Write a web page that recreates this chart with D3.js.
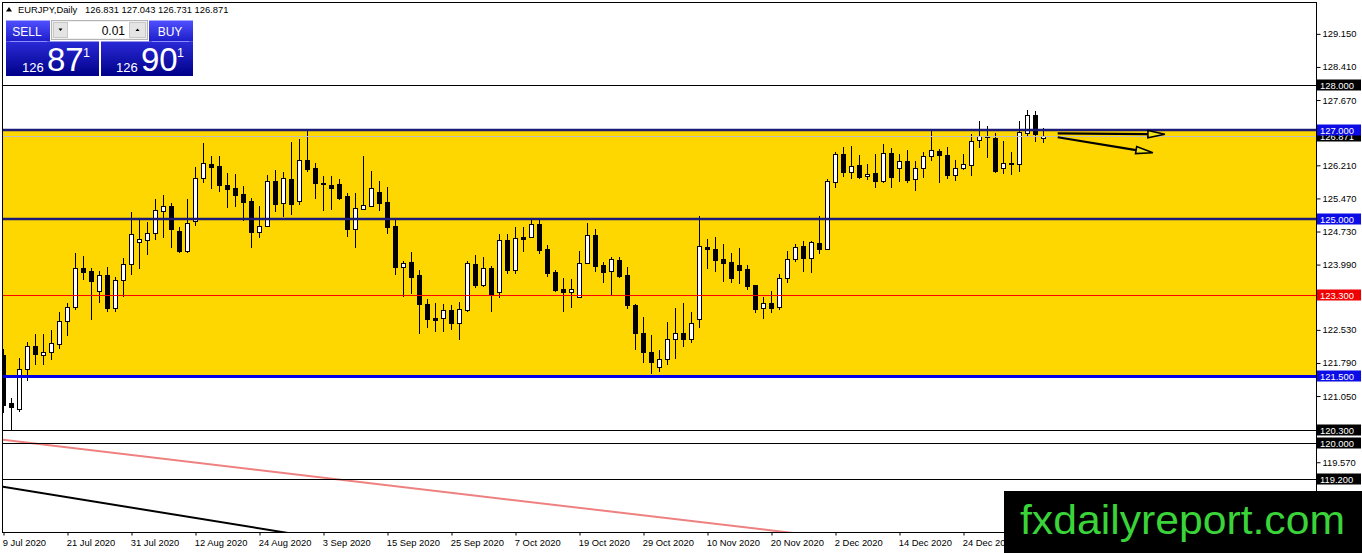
<!DOCTYPE html>
<html><head><meta charset="utf-8">
<script src="https://cdn.jsdelivr.net/npm/d3@7"></script>
<style>
html,body{margin:0;padding:0;background:#fff;}
svg{display:block;font-family:"Liberation Sans",Arial,sans-serif;}
</style></head>
<body>
<svg id="c" width="1362" height="553"></svg>
<script>
// ---------------- DATA ----------------
const symbolTitle = "EURJPY,Daily";
const headerOHLC = "126.831 127.043 126.731 126.871";

const opens = [121.97,120.90,120.75,121.65,122.18,121.96,122.03,122.21,122.72,123.05,
123.91,123.85,123.40,123.76,123.03,123.64,124.00,124.49,124.55,124.69,
125.19,125.30,124.74,124.30,124.97,125.92,126.24,126.19,125.77,125.70,
125.57,125.41,124.73,124.86,125.86,125.36,125.90,125.42,126.34,126.14,
125.82,125.77,125.79,125.52,124.78,125.24,125.31,125.62,125.39,124.85,
123.93,124.05,123.76,123.11,122.79,122.79,122.97,122.69,122.97,124.00,
123.53,123.91,123.37,124.54,123.87,124.60,124.60,124.90,124.34,123.83,
123.44,123.37,123.26,124.02,124.65,123.98,123.85,124.09,123.76,123.09,
122.45,122.03,121.69,121.87,122.32,122.47,122.32,122.77,124.39,124.34,
124.12,124.05,123.97,123.89,123.53,123.01,123.12,123.05,123.68,124.11,
124.40,124.13,124.47,124.33,125.84,126.46,126.06,126.22,125.97,126.03,
125.87,126.48,126.14,126.30,125.90,126.14,126.42,126.53,126.43,125.99,
126.16,126.21,126.78,126.87,126.82,126.16,126.27,126.23,126.94,127.34,
126.831];
const highs = [122.10,121.00,121.89,122.26,122.43,122.43,122.53,122.92,123.13,124.24,
124.18,123.91,123.85,123.94,123.72,124.14,125.17,125.00,124.95,125.46,
125.54,125.36,124.82,125.46,126.18,126.72,126.42,126.42,126.03,126.02,
125.75,125.49,125.30,125.99,126.11,126.05,126.73,126.80,127.02,126.27,
125.97,125.97,125.90,125.60,125.58,126.42,126.08,125.86,125.73,124.99,
124.08,124.27,123.88,123.21,123.12,123.11,123.09,123.15,124.07,124.20,
124.15,123.96,124.67,124.67,124.82,124.82,125.02,125.00,124.43,123.88,
123.70,123.67,124.29,124.93,124.79,124.04,124.17,124.17,123.94,123.11,
122.81,122.41,122.09,122.70,123.03,123.12,122.92,125.08,124.57,124.60,
124.45,124.24,124.37,123.98,123.54,123.27,123.40,123.78,124.29,124.45,
124.52,124.52,125.08,125.90,126.51,126.63,126.64,126.44,126.24,126.46,
126.69,126.59,126.46,126.55,126.31,126.51,127.00,126.58,126.63,126.33,
126.46,126.91,127.20,127.09,126.93,126.76,126.51,127.20,127.45,127.43,
127.043];
const lows = [120.70,120.30,120.72,121.41,121.76,121.76,121.87,122.13,122.41,123.00,
123.66,122.78,123.16,122.96,122.96,123.29,123.77,123.92,124.22,124.56,
124.61,124.39,124.28,124.28,124.87,125.84,125.70,125.64,125.28,125.31,
124.99,124.39,124.61,124.85,125.19,125.08,125.12,125.34,126.09,125.49,
125.21,125.24,125.46,124.63,124.38,125.24,125.29,125.21,124.70,123.77,
123.29,123.36,122.45,122.59,122.51,122.51,122.54,122.32,122.96,123.48,
123.51,122.96,123.26,123.81,123.81,124.30,124.60,124.24,123.73,123.40,
122.96,123.05,123.26,124.02,123.85,123.59,123.33,123.72,123.01,122.10,
121.82,121.56,121.62,121.76,121.91,122.17,122.27,122.60,123.92,123.85,
123.63,123.59,123.57,123.44,122.94,122.79,122.92,122.99,123.59,124.08,
123.85,123.83,124.24,124.33,125.72,125.98,125.92,125.92,125.90,125.73,
125.84,125.73,125.87,125.84,125.66,125.96,126.34,125.84,125.93,125.88,
126.12,125.99,126.63,126.40,126.07,126.03,126.02,126.08,126.87,126.76,
126.731];
const closes = [120.85,120.80,121.65,122.18,121.98,122.03,122.23,122.72,123.05,123.91,
123.83,123.63,123.76,123.01,123.64,124.00,124.67,124.56,124.70,125.21,
125.30,124.78,124.30,124.93,125.92,126.26,126.17,125.76,125.69,125.55,
125.40,124.72,124.86,125.85,125.34,125.92,125.34,126.34,126.13,125.81,
125.79,125.70,125.49,124.78,125.25,125.32,125.70,125.37,124.84,123.93,
124.02,123.72,123.10,122.77,122.75,122.97,122.69,123.00,124.02,123.53,
123.91,123.33,124.54,123.87,124.58,124.56,124.90,124.32,123.81,123.42,
123.37,123.44,124.02,124.65,123.96,123.83,124.11,123.74,123.08,122.45,
122.03,121.82,121.87,122.32,122.47,122.32,122.68,124.40,124.33,124.09,
124.03,123.70,123.88,123.52,123.00,123.12,123.02,123.68,124.11,124.39,
124.13,124.49,124.33,125.86,126.46,126.05,126.19,125.96,126.02,125.87,
126.48,125.96,126.30,125.88,126.14,126.42,126.55,126.43,125.99,126.14,
126.24,126.76,126.87,126.84,126.09,126.26,126.23,126.95,127.34,126.90,
126.871];

const xTickIndex  = [0,8,16,24,32,40,48,56,64,72,80,88,96,104,112,120];
const xTickLabels = ["9 Jul 2020","21 Jul 2020","31 Jul 2020","12 Aug 2020","24 Aug 2020","3 Sep 2020",
  "15 Sep 2020","25 Sep 2020","7 Oct 2020","19 Oct 2020","29 Oct 2020","10 Nov 2020","20 Nov 2020",
  "2 Dec 2020","14 Dec 2020","24 Dec 2020"];
const priceTicks = [129.150,128.410,127.670,126.210,125.470,124.730,123.990,122.530,121.790,121.050,119.570];

const zoneTop = 127.0, zoneBottom = 121.5;
const levelValues = [128.0,127.0,125.0,123.3,121.5,120.3,120.0,119.2];
const levelKinds  = ["black","navy","navy","red","blue","black","black","black"];
const bidPrice = 126.871;

// trendlines: [startIndex, startPrice, endIndex, endPrice]
const trendPink  = [0,120.07,100,117.96];
const trendBlack = [0,119.02,40,117.86];
// arrows: [startIndex, startPrice, tipIndex, tipPrice]
const arrowList = [[131.8,126.926,145.2,126.904],[131.8,126.837,143.7,126.49]];

const sellPrice = ["126","87","1"];
const buyPrice  = ["126","90","1"];
const lotValue = "0.01";
const watermark = "fxdailyreport.com";

// ---------------- DRAW ----------------
const svg = d3.select("#c");
const L = 3, R = 1316, T = 3, B = 532;
const x = d3.scaleLinear().domain([0,130]).range([3.3,1043.3]);
const y = d3.scaleLinear().domain([118.01,129.84]).range([B,T]);
const F = "'Liberation Sans',Arial,sans-serif";

svg.append("rect").attr("width",1362).attr("height",553).attr("fill","#fff");
const defs = svg.append("defs");
defs.append("clipPath").attr("id","plot").append("rect").attr("x",L).attr("y",T).attr("width",R-L).attr("height",B-T);
function grad(id, c1, c2){
  const g = defs.append("linearGradient").attr("id",id).attr("x1",0).attr("y1",0).attr("x2",0).attr("y2",1);
  g.append("stop").attr("offset","0%").attr("stop-color",c1);
  g.append("stop").attr("offset","100%").attr("stop-color",c2);
}
grad("gBtn","#5050ff","#1c1cc8");
grad("gBox","#2a2ad8","#000088");

const plot = svg.append("g").attr("clip-path","url(#plot)");

// yellow zone
plot.append("rect").attr("x",L).attr("width",R-L)
  .attr("y",y(zoneTop)).attr("height",y(zoneBottom)-y(zoneTop)).attr("fill","#FFD700");

// trendlines
function trend(t,color){
  const slope = (t[3]-t[1])/(t[2]-t[0]);
  const i0 = -1, i1 = 200;
  plot.append("line").attr("x1",x(i0)).attr("y1",y(t[1]+slope*(i0-t[0])))
    .attr("x2",x(i1)).attr("y2",y(t[1]+slope*(i1-t[0])))
    .attr("stroke",color).attr("stroke-width",2);
}
trend(trendPink,"#ee8080");
trend(trendBlack,"#000");

// candles
const idx = d3.range(opens.length);
const cg = plot.append("g");
idx.forEach(i=>{
  const cx = Math.round(x(i));
  const o=opens[i], c=closes[i], h=highs[i], l=lows[i];
  const bull = c>=o;
  cg.append("line").attr("x1",cx+0.5).attr("x2",cx+0.5)
    .attr("y1",Math.round(y(h))).attr("y2",Math.round(y(l))+1)
    .attr("stroke","#000").attr("stroke-width",1).attr("shape-rendering","crispEdges");
  const top = Math.round(y(Math.max(o,c))), bot = Math.round(y(Math.min(o,c)));
  cg.append("rect").attr("x",cx-1.5).attr("y",top+0.5)
    .attr("width",4).attr("height",Math.max(bot-top,1))
    .attr("fill",bull?"#fff":"#000").attr("stroke","#000").attr("stroke-width",1)
    .attr("shape-rendering","crispEdges");
});

// level lines
const kindStyle = {
  black:{stroke:"#000",w:1,label:"#000"},
  navy:{stroke:"#1c1c78",w:2.5,label:"#0c0ce6"},
  red:{stroke:"#ff0000",w:1,label:"#f00000"},
  blue:{stroke:"#0000e6",w:3,label:"#0c0ce6"}
};
// bid line
plot.append("line").attr("x1",L).attr("x2",R).attr("y1",Math.round(y(bidPrice))+0.5).attr("y2",Math.round(y(bidPrice))+0.5)
  .attr("stroke","#c0c0c0").attr("stroke-width",1);
levelValues.forEach((v,k)=>{
  const s = kindStyle[levelKinds[k]];
  const yy = Math.round(y(v)) + (s.w%2===1?0.5:0);
  plot.append("line").attr("x1",L).attr("x2",R).attr("y1",yy).attr("y2",yy)
    .attr("stroke",s.stroke).attr("stroke-width",s.w).attr("shape-rendering",s.w===1?"crispEdges":"auto");
});

// arrows
arrowList.forEach(a=>{
  const x0=x(a[0]), y0=y(a[1]), x1=x(a[2]), y1=y(a[3]);
  const dx=x1-x0, dy=y1-y0, len=Math.hypot(dx,dy), ux=dx/len, uy=dy/len;
  const hl=17, hw=3.6;
  const bx=x1-ux*hl, by=y1-uy*hl;
  plot.append("line").attr("x1",x0).attr("y1",y0).attr("x2",bx).attr("y2",by)
    .attr("stroke","#000").attr("stroke-width",2.2);
  plot.append("path").attr("d",`M${x1},${y1}L${bx-uy*hw},${by+ux*hw}L${bx+uy*hw},${by-ux*hw}Z`)
    .attr("fill","#f2e41c").attr("stroke","#000").attr("stroke-width",1.6);
});

// frame
svg.append("rect").attr("x",2.5).attr("y",2.5).attr("width",R-2).attr("height",B-2)
  .attr("fill","none").attr("stroke","#000").attr("stroke-width",1);

// right price axis
const yAxis = d3.axisRight(y).tickValues(priceTicks).tickFormat(d3.format(".3f")).tickSize(4).tickSizeOuter(0);
const ya = svg.append("g").attr("transform",`translate(${R+0.5},0)`).call(yAxis);
ya.select(".domain").remove();
ya.selectAll("line").attr("stroke","#000");
ya.selectAll("text").attr("x",6).attr("font-family",F).attr("font-size","9.4px").attr("fill","#000");

// bottom time axis
const xAxis = d3.axisBottom(x).tickValues(xTickIndex).tickFormat((d,i)=>xTickLabels[i]).tickSize(3).tickSizeOuter(0);
const xa = svg.append("g").attr("transform",`translate(0,${B+0.5})`).call(xAxis);
xa.select(".domain").remove();
xa.selectAll("line").attr("stroke","#000").attr("transform","translate(0.2,0)");
xa.selectAll("text").attr("text-anchor","start").attr("x",-1).attr("y",7)
  .attr("font-family",F).attr("font-size","9.4px").attr("fill","#000");

// level labels on price axis
function priceLabel(v,bg){
  const cy = Math.round(y(v));
  svg.append("rect").attr("x",R+1).attr("y",cy-5.5).attr("width",44).attr("height",11).attr("fill",bg);
  svg.append("text").attr("x",R+4).attr("y",cy+3.6).attr("font-family",F).attr("font-size","9.4px")
    .attr("fill","#fff").text(v.toFixed(3));
}
priceLabel(bidPrice,"#000");
levelValues.forEach((v,k)=>priceLabel(v,kindStyle[levelKinds[k]].label));

// header
svg.append("path").attr("d","M6,11.5L9,7L12,11.5Z").attr("fill","#000");
svg.append("text").attr("x",18).attr("y",13).attr("font-family",F).attr("font-size","9.4px").attr("fill","#000").text(symbolTitle);
svg.append("text").attr("x",85).attr("y",13).attr("font-family",F).attr("font-size","9.4px").attr("fill","#000").text(headerOHLC);

// trade panel
const p = svg.append("g");
p.append("rect").attr("x",6).attr("y",20.5).attr("width",44).attr("height",21).attr("fill","url(#gBtn)");
p.append("rect").attr("x",149).attr("y",20.5).attr("width",44).attr("height",21).attr("fill","url(#gBtn)");
p.append("rect").attr("x",6).attr("y",41.5).attr("width",93).attr("height",34.5).attr("fill","url(#gBox)");
p.append("rect").attr("x",101).attr("y",41.5).attr("width",92).attr("height",34.5).attr("fill","url(#gBox)");
p.append("line").attr("x1",10).attr("x2",47).attr("y1",41.5).attr("y2",41.5).attr("stroke","#8c8cff");
p.append("line").attr("x1",152).attr("x2",189).attr("y1",41.5).attr("y2",41.5).attr("stroke","#8c8cff");
p.append("rect").attr("x",51.5).attr("y",20.5).attr("width",96).attr("height",19).attr("fill","#f0f0f0").attr("stroke","#b4b4b4");
p.append("rect").attr("x",53.5).attr("y",22.5).attr("width",14).attr("height",15).attr("fill","#e4e4e4").attr("stroke","#c8c8c8");
p.append("rect").attr("x",129.5).attr("y",22.5).attr("width",16).attr("height",15).attr("fill","#e4e4e4").attr("stroke","#c8c8c8");
p.append("rect").attr("x",68).attr("y",22).attr("width",61).attr("height",16).attr("fill","#fff");
p.append("path").attr("d","M58.5,28.5L62.5,28.5L60.5,31Z").attr("fill","#000");
p.append("path").attr("d","M135.5,31L139.5,31L137.5,28.5Z").attr("fill","#000");
p.append("text").attr("x",125).attr("y",35).attr("text-anchor","end").attr("font-family",F).attr("font-size","12px").attr("fill","#000").text(lotValue);
p.append("text").attr("x",27).attr("y",35.5).attr("text-anchor","middle").attr("font-family",F).attr("font-size","12px").attr("fill","#fff").text("SELL");
p.append("text").attr("x",170).attr("y",35.5).attr("text-anchor","middle").attr("font-family",F).attr("font-size","12px").attr("fill","#fff").text("BUY");
function priceBox(parts,x0){
  p.append("text").attr("x",x0).attr("y",72).attr("font-family",F).attr("font-size","13px").attr("fill","#fff").text(parts[0]);
  p.append("text").attr("x",x0+25).attr("y",70.5).attr("font-family",F).attr("font-size","33px").attr("fill","#fff").text(parts[1]);
  p.append("text").attr("x",x0+61).attr("y",57).attr("font-family",F).attr("font-size","12.5px").attr("fill","#fff").text(parts[2]);
}
priceBox(sellPrice,22);
priceBox(buyPrice,116);

// watermark
svg.append("rect").attr("x",1004).attr("y",491).attr("width",358).attr("height",62).attr("fill","#000");
svg.append("text").attr("x",1020).attr("y",534).attr("font-family",F).attr("font-size","41px")
  .attr("fill","#3ad33a").attr("textLength",325).attr("lengthAdjust","spacingAndGlyphs").text(watermark);
</script>
</body></html>
